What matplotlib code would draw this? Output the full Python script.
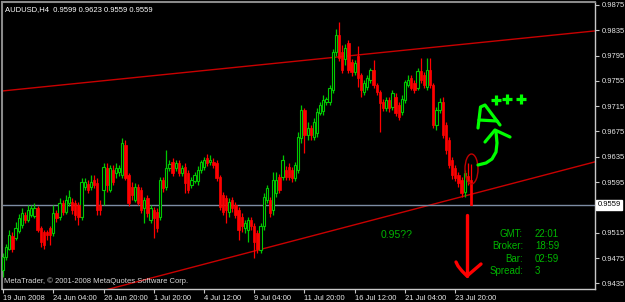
import numpy as np
import matplotlib.pyplot as plt
from matplotlib.patches import Ellipse

plt.rcParams['font.family'] = ['Liberation Sans', 'DejaVu Sans']

# AUDUSD H4 candles (open, high, low, close)
opens = [0.9456, 0.9477, 0.9490, 0.9509, 0.9506, 0.9517, 0.9527, 0.9543, 0.9535, 0.9543,
         0.9541, 0.9554, 0.9522, 0.9516, 0.9516, 0.9522, 0.9514, 0.9546, 0.9540, 0.9562,
         0.9548, 0.9562, 0.9564, 0.9562, 0.9559, 0.9540, 0.9588, 0.9592, 0.9588, 0.9598,
         0.9593, 0.9559, 0.9583, 0.9617, 0.9583, 0.9614, 0.9609, 0.9611, 0.9606, 0.9654,
         0.9606, 0.9588, 0.9567, 0.9588, 0.9583, 0.9554, 0.9570, 0.9535, 0.9551, 0.9548,
         0.9540, 0.9598, 0.9588, 0.9617, 0.9627, 0.9617, 0.9625, 0.9609, 0.9619, 0.9609,
         0.9590, 0.9597, 0.9596, 0.9614, 0.9619, 0.9633, 0.9627, 0.9627, 0.9625, 0.9603,
         0.9575, 0.9570, 0.9548, 0.9567, 0.9559, 0.9551, 0.9540, 0.9522, 0.9519, 0.9535,
         0.9525, 0.9514, 0.9488, 0.9525, 0.9567, 0.9567, 0.9551, 0.9578, 0.9603, 0.9603,
         0.9614, 0.9619, 0.9614, 0.9601, 0.9614, 0.9665, 0.9709, 0.9669, 0.9680, 0.9667,
         0.9672, 0.9704, 0.9707, 0.9721, 0.9722, 0.9741, 0.9800, 0.9828, 0.9800, 0.9790,
         0.9815, 0.9785, 0.9769, 0.9794, 0.9764, 0.9737, 0.9745, 0.9756, 0.9772, 0.9749,
         0.9738, 0.9722, 0.9712, 0.9725, 0.9714, 0.9730, 0.9717, 0.9706, 0.9725, 0.9749,
         0.9760, 0.9752, 0.9744, 0.9770, 0.9764, 0.9746, 0.9772, 0.9749, 0.9685, 0.9709,
         0.9722, 0.9685, 0.9662, 0.9630, 0.9617, 0.9606, 0.9598, 0.9579, 0.9605, 0.9599]
highs = [0.9483, 0.9497, 0.9519, 0.9516, 0.9532, 0.9544, 0.9554, 0.9548, 0.9559, 0.9559,
         0.9562, 0.9557, 0.9525, 0.9519, 0.9519, 0.9525, 0.9559, 0.9551, 0.9570, 0.9567,
         0.9575, 0.9583, 0.9570, 0.9567, 0.9564, 0.9602, 0.9602, 0.9598, 0.9606, 0.9606,
         0.9601, 0.9567, 0.9625, 0.9625, 0.9622, 0.9622, 0.9625, 0.9622, 0.9665, 0.9662,
         0.9609, 0.9595, 0.9593, 0.9592, 0.9588, 0.9572, 0.9575, 0.9559, 0.9556, 0.9554,
         0.9603, 0.9603, 0.9646, 0.9630, 0.9633, 0.9630, 0.9630, 0.9622, 0.9625, 0.9614,
         0.9603, 0.9611, 0.9620, 0.9630, 0.9635, 0.9640, 0.9638, 0.9633, 0.9630, 0.9606,
         0.9580, 0.9575, 0.9570, 0.9572, 0.9564, 0.9556, 0.9546, 0.9535, 0.9540, 0.9540,
         0.9530, 0.9519, 0.9530, 0.9578, 0.9590, 0.9572, 0.9611, 0.9611, 0.9608, 0.9638,
         0.9620, 0.9625, 0.9619, 0.9627, 0.9674, 0.9717, 0.9712, 0.9690, 0.9685, 0.9696,
         0.9712, 0.9722, 0.9733, 0.9730, 0.9748, 0.9806, 0.9837, 0.9848, 0.9812, 0.9814,
         0.9820, 0.9790, 0.9788, 0.9810, 0.9768, 0.9756, 0.9764, 0.9776, 0.9788, 0.9752,
         0.9741, 0.9727, 0.9730, 0.9730, 0.9741, 0.9736, 0.9722, 0.9733, 0.9757, 0.9764,
         0.9764, 0.9757, 0.9775, 0.9791, 0.9769, 0.9791, 0.9791, 0.9752, 0.9714, 0.9728,
         0.9730, 0.9690, 0.9667, 0.9635, 0.9622, 0.9611, 0.9603, 0.9614, 0.9625, 0.9623]
lows = [0.9445, 0.9472, 0.9488, 0.9484, 0.9503, 0.9514, 0.9522, 0.9530, 0.9532, 0.9540,
        0.9538, 0.9516, 0.9492, 0.9490, 0.9503, 0.9496, 0.9509, 0.9532, 0.9535, 0.9543,
        0.9545, 0.9557, 0.9545, 0.9535, 0.9527, 0.9535, 0.9583, 0.9578, 0.9583, 0.9586,
        0.9543, 0.9543, 0.9559, 0.9579, 0.9579, 0.9590, 0.9601, 0.9605, 0.9601, 0.9598,
        0.9557, 0.9567, 0.9564, 0.9559, 0.9546, 0.9530, 0.9540, 0.9530, 0.9506, 0.9516,
        0.9535, 0.9580, 0.9583, 0.9612, 0.9604, 0.9612, 0.9604, 0.9604, 0.9578, 0.9578,
        0.9585, 0.9593, 0.9591, 0.9609, 0.9614, 0.9620, 0.9622, 0.9617, 0.9596, 0.9551,
        0.9543, 0.9530, 0.9540, 0.9548, 0.9538, 0.9503, 0.9516, 0.9514, 0.9500, 0.9519,
        0.9475, 0.9483, 0.9483, 0.9519, 0.9562, 0.9540, 0.9543, 0.9572, 0.9578, 0.9598,
        0.9598, 0.9598, 0.9595, 0.9596, 0.9609, 0.9657, 0.9641, 0.9662, 0.9662, 0.9662,
        0.9667, 0.9701, 0.9701, 0.9717, 0.9717, 0.9736, 0.9795, 0.9786, 0.9768, 0.9780,
        0.9767, 0.9762, 0.9764, 0.9745, 0.9730, 0.9732, 0.9740, 0.9752, 0.9744, 0.9733,
        0.9674, 0.9707, 0.9707, 0.9706, 0.9709, 0.9699, 0.9693, 0.9701, 0.9720, 0.9745,
        0.9740, 0.9736, 0.9740, 0.9752, 0.9744, 0.9741, 0.9744, 0.9680, 0.9677, 0.9704,
        0.9664, 0.9640, 0.9617, 0.9600, 0.9596, 0.9588, 0.9572, 0.9571, 0.9590, 0.9559]
closes = [0.9477, 0.9493, 0.9511, 0.9490, 0.9522, 0.9538, 0.9546, 0.9535, 0.9551, 0.9554,
          0.9554, 0.9519, 0.9500, 0.9496, 0.9511, 0.9511, 0.9546, 0.9538, 0.9562, 0.9548,
          0.9567, 0.9572, 0.9551, 0.9543, 0.9540, 0.9595, 0.9595, 0.9583, 0.9595, 0.9590,
          0.9551, 0.9551, 0.9619, 0.9590, 0.9617, 0.9595, 0.9617, 0.9617, 0.9657, 0.9601,
          0.9562, 0.9575, 0.9588, 0.9562, 0.9551, 0.9567, 0.9546, 0.9554, 0.9538, 0.9522,
          0.9598, 0.9586, 0.9617, 0.9624, 0.9609, 0.9625, 0.9609, 0.9617, 0.9594, 0.9583,
          0.9598, 0.9606, 0.9614, 0.9627, 0.9630, 0.9625, 0.9630, 0.9622, 0.9601, 0.9556,
          0.9548, 0.9551, 0.9564, 0.9554, 0.9543, 0.9519, 0.9525, 0.9530, 0.9535, 0.9525,
          0.9501, 0.9490, 0.9525, 0.9572, 0.9586, 0.9546, 0.9598, 0.9598, 0.9583, 0.9630,
          0.9603, 0.9603, 0.9601, 0.9622, 0.9666, 0.9709, 0.9669, 0.9680, 0.9669, 0.9690,
          0.9706, 0.9717, 0.9725, 0.9726, 0.9744, 0.9800, 0.9828, 0.9791, 0.9772, 0.9807,
          0.9772, 0.9769, 0.9783, 0.9760, 0.9741, 0.9752, 0.9760, 0.9772, 0.9749, 0.9738,
          0.9720, 0.9712, 0.9725, 0.9712, 0.9736, 0.9704, 0.9698, 0.9727, 0.9753, 0.9756,
          0.9744, 0.9741, 0.9770, 0.9756, 0.9749, 0.9772, 0.9749, 0.9685, 0.9709, 0.9722,
          0.9669, 0.9646, 0.9622, 0.9606, 0.9601, 0.9594, 0.9578, 0.9609, 0.9596, 0.9559]

time_ticks = [0, 16, 32, 48, 64, 80, 96, 112, 128, 144]
time_labels = ['19 Jun 2008', '24 Jun 04:00', '26 Jun 20:00', '1 Jul 20:00', '4 Jul 12:00',
               '9 Jul 04:00', '11 Jul 20:00', '16 Jul 12:00', '21 Jul 04:00', '23 Jul 20:00']
price_ticks = [0.9875, 0.9835, 0.9795, 0.9755, 0.9715, 0.9675, 0.9635, 0.9595,
               0.9555, 0.9515, 0.9475, 0.9435]
last_price = 0.9559

# trend lines drawn by hand on the chart (bar index, price)
upper_line_x = [-0.3, 188.5]
upper_line_y = [0.9739, 0.9834]
lower_line_x = [30, 188.5]
lower_line_y = [0.9421, 0.9627]

info_labels = ['GMT:', 'Broker:', 'Bar:', 'Spread:']
info_values = ['22:01', '18:59', '02:59', '3']

GREEN = '#00c800'
RED = '#ff0000'
FG = '#e6e6e6'

fig = plt.figure(figsize=(6.25, 3.02), dpi=100, facecolor='black')
ax = fig.add_axes([2 / 625, 13 / 302, 593 / 625, 287 / 302], facecolor='black')

o = np.array(opens)
h = np.array(highs)
l = np.array(lows)
c = np.array(closes)
x = np.arange(len(o))
up = c >= o

ax.plot(upper_line_x, upper_line_y, color='#c80000', lw=1, zorder=1)
ax.plot(lower_line_x, lower_line_y, color='#c80000', lw=1, zorder=1)
ax.axhline(last_price, color='#7d8ca3', lw=1, zorder=1)

ax.vlines(x[up], l[up], h[up], color=GREEN, lw=0.9, zorder=2)
ax.vlines(x[~up], l[~up], h[~up], color=RED, lw=0.9, zorder=2)
body = np.maximum(np.abs(c - o), 0.00008)
ax.bar(x[up], body[up], bottom=np.minimum(o, c)[up], width=0.72,
       facecolor='black', edgecolor=GREEN, lw=0.8, zorder=3)
ax.bar(x[~up], body[~up], bottom=np.minimum(o, c)[~up], width=0.72,
       facecolor=RED, edgecolor=RED, lw=0.5, zorder=3)

ax.set_xlim(-0.32, 188.5)
ax.set_ylim(0.94260, 0.98797)

ax.yaxis.tick_right()
ax.set_yticks(price_ticks)
# the 0.9555 label sits under the last-price box, so it is left blank
ax.set_yticklabels(['' if abs(p - 0.9555) < 1e-6 else '%.4f' % p for p in price_ticks])
ax.set_xticks(time_ticks)
ax.set_xticklabels(time_labels, ha='left')
ax.tick_params(axis='y', length=3, width=0.8, pad=1.5, colors='#c8c8c8',
               labelcolor=FG, labelsize=5.5)
ax.tick_params(axis='x', length=3, width=0.8, pad=1, colors='#c8c8c8',
               labelcolor=FG, labelsize=5.5)

for side in ['left', 'top']:
    ax.spines[side].set_color('#8a8a8a')
    ax.spines[side].set_linewidth(1.5)
for side in ['right', 'bottom']:
    ax.spines[side].set_color('#c8c8c8')
    ax.spines[side].set_linewidth(1)

ax.text(1.004, last_price, '%.4f' % last_price, transform=ax.get_yaxis_transform(),
        ha='left', va='center', fontsize=5.5, color='black', clip_on=False,
        bbox=dict(boxstyle='square,pad=0.2', fc='white', ec='white'))

ax.text(0.005, 0.985, 'AUDUSD,H4  %.4f %.4f %.4f %.4f' % (opens[-1], highs[-1], lows[-1], closes[-1]),
        transform=ax.transAxes, ha='left', va='top', fontsize=5.5, color='white')
ax.text(0.003, 0.026, 'MetaTrader, \u00a9 2001-2008 MetaQuotes Software Corp.',
        transform=ax.transAxes, ha='left', va='center', fontsize=5.5, color='#d8d8d8')

# overlay in pixel units for the hand drawn marks and the info panel
ov = fig.add_axes([0, 0, 1, 1])
ov.set_xlim(0, 625)
ov.set_ylim(302, 0)
ov.axis('off')
ov.patch.set_alpha(0)

ov.text(381, 235, '0.95??', ha='left', va='center', fontsize=7.5, color='#00b400')
for k, (lab, val) in enumerate(zip(info_labels, info_values)):
    yy = 234 + k * 12.4
    ov.text(523, yy, lab, ha='right', va='center', fontsize=7, color='#00b400')
    ov.text(535, yy, val, ha='left', va='center', fontsize=7, color='#00b400')

LIME = '#00ff00'
ov.plot([478, 480.5, 485, 500], [128, 107, 105, 125], color=LIME, lw=2.3,
        solid_capstyle='round', solid_joinstyle='round')
ov.plot([479, 497], [120, 121], color=LIME, lw=2.3, solid_capstyle='round')
ov.plot([496, 507, 521], [100, 99, 99], ls='none', marker='+', ms=7, mew=2.3, color=LIME)
ov.plot([478, 486, 492, 496, 497, 496], [165, 163, 159, 152, 143, 132], color=LIME, lw=2.3,
        solid_capstyle='round', solid_joinstyle='round')
ov.plot([485, 495, 510], [142, 130, 137], color=LIME, lw=2.3,
        solid_capstyle='round', solid_joinstyle='round')

ov.add_patch(Ellipse((471.5, 169), 13, 30, fill=False, edgecolor='#c00000', lw=1))

ov.plot([467, 467], [215, 276], color=RED, lw=2.4, solid_capstyle='round')
ov.plot([456, 458, 462, 467, 474, 481], [262, 266, 271, 276, 270, 264], color=RED, lw=2.4,
        solid_capstyle='round', solid_joinstyle='round')

fig.savefig('out.png', dpi=100, facecolor='black')
